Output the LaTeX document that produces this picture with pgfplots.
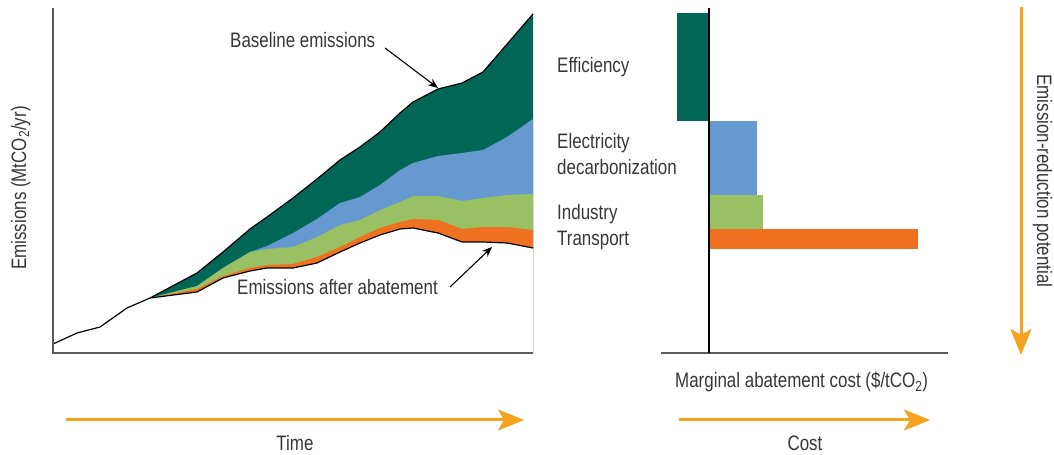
\documentclass[border=0pt]{standalone}
\usepackage{fontspec}
\setmainfont{Liberation Sans}[FakeStretch=0.81]
\usepackage{pgfplots}
\pgfplotsset{compat=1.18}
\usetikzlibrary{arrows.meta}
\definecolor{effgreen}{RGB}{0,102,85}
\definecolor{elecblue}{RGB}{102,153,208}
\definecolor{indgreen}{RGB}{153,192,99}
\definecolor{transorange}{RGB}{240,112,34}
\definecolor{arroworange}{RGB}{245,162,30}
\definecolor{txtgray}{RGB}{55,55,55}
\definecolor{axgray}{RGB}{90,90,90}
\begin{document}
\begin{tikzpicture}[x=1bp,y=1bp,font=\fontsize{21}{25}\selectfont,text=txtgray]
\useasboundingbox (0,0) rectangle (1054,-455);
% ---------- left panel: emissions over time ----------
\begin{axis}[at={(53,-353)},anchor=south west,scale only axis,
  width=480bp,height=345bp,xmin=0,xmax=480,ymin=0,ymax=345,
  axis lines=none,clip=false]
% baseline (top of efficiency wedge)
\addplot[fill=effgreen,draw=none] coordinates {
 (97,55) (144,80) (170,101) (197,124) (214,136) (240,155) (264,174) (287,193)
 (307,206) (327,221) (347,240) (360,251) (385,264) (409,270) (430,281) (480,339)} \closedcycle;
% top of electricity decarbonization
\addplot[fill=elecblue,draw=none] coordinates {
 (97,55) (144,67) (170,85) (197,101) (214,107) (240,120) (264,134) (287,150)
 (307,156) (327,168) (347,183) (360,190) (385,197) (409,200) (430,203) (454,216) (480,234)} \closedcycle;
% top of industry
\addplot[fill=indgreen,draw=none] coordinates {
 (97,55) (144,67) (170,85) (197,101) (214,104) (240,106) (264,116) (287,128)
 (307,133) (327,143) (347,151) (360,157) (385,157) (409,152) (430,155) (454,158) (480,159)} \closedcycle;
% top of transport
\addplot[fill=transorange,draw=none] coordinates {
 (97,55) (144,64) (170,77) (197,85) (214,88) (240,89) (264,96) (287,106)
 (307,116) (327,125) (347,131) (360,134) (385,133) (409,124) (430,126) (454,126) (480,123)} \closedcycle;
% emissions after abatement
\addplot[fill=white,draw=none] coordinates {
 (0,9) (24,20) (47,26) (74,45) (97,55) (144,61) (170,75) (197,82) (214,85) (240,85)
 (264,90) (287,101) (307,110) (327,118) (347,124) (360,125) (385,120) (409,111)
 (430,111) (454,110) (480,105)} \closedcycle;
\addplot[black,line width=1.2bp] coordinates {
 (97,55) (144,80) (170,101) (197,124) (214,136) (240,155) (264,174) (287,193)
 (307,206) (327,221) (347,240) (360,251) (385,264) (409,270) (430,281) (480,339)};
\addplot[black,line width=1.2bp] coordinates {
 (0,9) (24,20) (47,26) (74,45) (97,55) (144,61) (170,75) (197,82) (214,85) (240,85)
 (264,90) (287,101) (307,110) (327,118) (347,124) (360,125) (385,120) (409,111)
 (430,111) (454,110) (480,105)};
\draw[axgray,line width=1.8bp] (axis cs:0,345) -- (axis cs:0,0) -- (axis cs:480,0);
\draw[black,line width=1.1bp,-{Stealth[length=10bp,width=8bp]}] (axis cs:332,305) -- (axis cs:385,265);
\draw[black,line width=1.1bp,-{Stealth[length=10bp,width=8bp]}] (axis cs:397,66) -- (axis cs:439,106);
\end{axis}
\node[anchor=base west,inner sep=0] at (230,-48) {Baseline emissions};
\node[anchor=base west,inner sep=0] at (237,-295) {Emissions after abatement};
\node[anchor=base,inner sep=0,rotate=90] at (26,-188) {Emissions (MtCO\textsubscript{2}/yr)};
\draw[arroworange,line width=3bp,-{Stealth[length=26bp,width=21bp,inset=6bp]}] (66,-420) -- (524,-420);
\node[anchor=base,inner sep=0] at (295,-450) {Time};
% ---------- right panel: marginal abatement cost ----------
\begin{axis}[at={(661,-353)},anchor=south west,scale only axis,
  width=287bp,height=345bp,xmin=-48,xmax=239,ymin=0,ymax=345,
  axis lines=none,clip=false]
\addplot[fill=effgreen,draw=none] coordinates {(-32,232) (0,232) (0,340) (-32,340)} -- cycle;
\addplot[fill=elecblue,draw=none] coordinates {(0,158) (48,158) (48,232) (0,232)} -- cycle;
\addplot[fill=indgreen,draw=none] coordinates {(0,124) (54,124) (54,158) (0,158)} -- cycle;
\addplot[fill=transorange,draw=none] coordinates {(0,104) (209,104) (209,124) (0,124)} -- cycle;
\draw[axgray,line width=1.8bp] (axis cs:-48,0) -- (axis cs:239,0);
\draw[black,line width=1.3bp] (axis cs:0,0) -- (axis cs:0,345);
\end{axis}
\node[anchor=base west,inner sep=0] at (557,-73) {Efficiency};
\node[anchor=base west,inner sep=0] at (557,-149) {Electricity};
\node[anchor=base west,inner sep=0] at (557,-175) {decarbonization};
\node[anchor=base west,inner sep=0] at (557,-220) {Industry};
\node[anchor=base west,inner sep=0] at (557,-246) {Transport};
\node[anchor=base west,inner sep=0] at (675,-388) {Marginal abatement cost (\$/tCO\textsubscript{2})};
\draw[arroworange,line width=3bp,-{Stealth[length=26bp,width=21bp,inset=6bp]}] (679,-420) -- (930,-420);
\node[anchor=base,inner sep=0] at (805,-450) {Cost};
\draw[arroworange,line width=3bp,-{Stealth[length=26bp,width=21bp,inset=6bp]}] (1021,-7) -- (1021,-355);
\node[anchor=base,inner sep=0,rotate=-90] at (1037,-181) {Emission-reduction potential};
\end{tikzpicture}
\end{document}
